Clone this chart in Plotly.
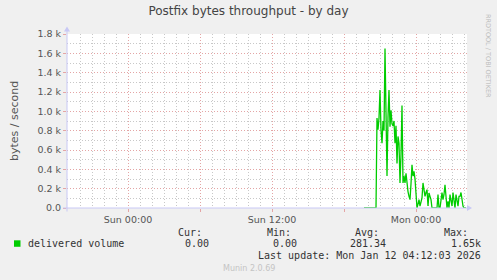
import pandas as pd
import plotly.graph_objects as go

# ---------------- data ----------------
title_text = "Postfix bytes throughput - by day"
y_label = "bytes / second"
series_name = "delivered volume"
range_start = "2026-01-10 18:55"
range_end = "2026-01-12 04:15"
series_start = "2026-01-11 19:40"   # first known 5-minute sample
# delivered volume, bytes/second, 5-minute samples
delivered = [
    0, 0, 0, 0, 0, 0, 0, 0, 0, 0, 0, 0, 0,
    930, 810, 930, 1220, 810, 670, 900, 800, 1650, 980,
    330, 940, 1220, 840, 1010, 870, 850, 900, 670, 850,
    460, 740, 670, 260, 550, 1060, 260, 330, 260,
    360, 250, 170, 120, 87, 250, 447, 330, 380, 300,
    190, 0, 40, 87, 20, 60, 105, 259, 180, 120,
    160, 190, 20, 155, 120, 87, 0, 0, 0, 0, 0, 0,
    139, 0, 0, 100, 160, 87, 140, 241, 120, 0,
    70, 0, 139, 70, 20, 160, 80, 0, 139, 60,
    20, 120, 120, 160, 60, 20, 0, 0, 0,
]
y_tick_vals = [0, 200, 400, 600, 800, 1000, 1200, 1400, 1600, 1800]
y_tick_text = ["0.0", "0.2 k", "0.4 k", "0.6 k", "0.8 k", "1.0 k",
               "1.2 k", "1.4 k", "1.6 k", "1.8 k"]
x_tick_vals = ["2026-01-10 18:00", "2026-01-11 00:00", "2026-01-11 06:00",
               "2026-01-11 12:00", "2026-01-11 18:00", "2026-01-12 00:00"]
x_tick_text = ["", "Sun 00:00", "", "Sun 12:00", "", "Mon 00:00"]
legend_headers = ["Cur:", "Min:", "Avg:", "Max:"]
legend_values = ["0.00", "0.00", "281.34", "1.65k"]
last_update = "Last update: Mon Jan 12 04:12:03 2026"
version_text = "Munin 2.0.69"
side_text = "RRDTOOL / TOBI OETIKER"

# ---------------- layout helpers ----------------
W, H = 497, 280
L, R, T, B = 67, 467, 33.5, 208.5   # plot area in pixels

def px(x):
    return (x - L) / (R - L)

def py(y):
    return (B - y) / (B - T)

times = pd.date_range(series_start, periods=len(delivered), freq="5min")

fig = go.Figure()
fig.add_trace(go.Scatter(
    x=times, y=delivered, mode="lines", name=series_name,
    line=dict(color="#00CC00", width=1.3), hoverinfo="skip",
))

grid_red = "rgb(228,165,165)"
grid_grey = "rgb(200,200,200)"
axis_col = "rgb(200,200,245)"
txt = "#555555"
dots = "1px,2px"

fig.update_layout(
    width=W, height=H,
    margin=dict(l=L, r=W - R, t=T, b=H - B),
    paper_bgcolor="#F0F0F0", plot_bgcolor="#FFFFFF",
    showlegend=False,
    font=dict(family="DejaVu Sans", size=9.5, color=txt),
    title=dict(text=title_text, x=0.5, xanchor="center", y=1 - 10.5 / H,
               yanchor="middle", font=dict(family="DejaVu Sans", size=12, color="#444444")),
)
fig.update_xaxes(
    range=[range_start, range_end], type="date",
    tickmode="array", tickvals=x_tick_vals, ticktext=x_tick_text,
    showgrid=True, gridcolor=grid_red, griddash=dots, gridwidth=1,
    ticks="outside", ticklen=3, tickcolor=grid_red,
    minor=dict(dtick=3600000, showgrid=True, gridcolor=grid_grey, griddash=dots,
               gridwidth=1, ticks=""),
    showline=False, zeroline=False,
    tickfont=dict(family="DejaVu Sans", size=9.5, color=txt),
)
fig.update_yaxes(
    range=[0, 1800], tickmode="array", tickvals=y_tick_vals, ticktext=y_tick_text,
    showgrid=True, gridcolor=grid_red, griddash=dots, gridwidth=1,
    ticks="outside", ticklen=3, tickcolor=grid_red,
    minor=dict(dtick=100, showgrid=True, gridcolor=grid_grey, griddash=dots,
               gridwidth=1, ticks=""),
    showline=False, zeroline=False,
    tickfont=dict(family="DejaVu Sans", size=9.5, color=txt),
)

shapes = [
    # x axis line with arrow
    dict(type="line", xref="paper", yref="paper", x0=px(63), x1=px(468), y0=0, y1=0,
         line=dict(color=axis_col, width=1)),
    dict(type="path", xref="paper", yref="paper",
         path=f"M {px(467)},{py(205.5)} L {px(472)},{py(208.5)} L {px(467)},{py(211.5)} Z",
         fillcolor=axis_col, line=dict(color=axis_col, width=0)),
    # y axis line with arrow
    dict(type="line", xref="paper", yref="paper", x0=0, x1=0, y0=py(212), y1=py(30),
         line=dict(color=axis_col, width=1)),
    dict(type="path", xref="paper", yref="paper",
         path=f"M {px(64)},{py(31)} L {px(67)},{py(26)} L {px(70)},{py(31)} Z",
         fillcolor=axis_col, line=dict(color=axis_col, width=0)),
    # legend swatch
    dict(type="rect", xref="paper", yref="paper",
         x0=px(14), x1=px(20.5), y0=py(247.5), y1=py(241),
         fillcolor="#00CC00", line=dict(width=0)),
]
fig.update_layout(shapes=shapes)

mono = dict(family="DejaVu Sans Mono", size=10, color="#333333")
ann = []
ann.append(dict(text=y_label, x=px(14), y=py(121), xref="paper", yref="paper",
                textangle=-90, showarrow=False, xanchor="center", yanchor="middle",
                font=dict(family="DejaVu Sans", size=11, color=txt)))
ann.append(dict(text=side_text, x=px(487.5), y=py(55), xref="paper", yref="paper",
                textangle=90, showarrow=False, xanchor="center", yanchor="middle",
                font=dict(family="DejaVu Sans", size=6.5, color="#BDBDBD")))
ann.append(dict(text=series_name, x=px(26), y=py(244.5), xref="paper", yref="paper",
                showarrow=False, xanchor="left", yanchor="middle", font=mono))
header_right = [204, 293, 381, 470]
value_right = [211, 299, 388, 483]
for h, v, hx, vx in zip(legend_headers, legend_values, header_right, value_right):
    ann.append(dict(text=h, x=px(hx), y=py(233), xref="paper", yref="paper",
                    showarrow=False, xanchor="right", yanchor="middle", font=mono))
    ann.append(dict(text=v, x=px(vx), y=py(244.5), xref="paper", yref="paper",
                    showarrow=False, xanchor="right", yanchor="middle", font=mono))
ann.append(dict(text=last_update, x=px(483), y=py(256.5), xref="paper", yref="paper",
                showarrow=False, xanchor="right", yanchor="middle", font=mono))
ann.append(dict(text=version_text, x=px(248.5), y=py(269.5), xref="paper", yref="paper",
                showarrow=False, xanchor="center", yanchor="middle",
                font=dict(family="DejaVu Sans", size=8, color="#C4C4C4")))
fig.update_layout(annotations=ann)

fig.write_html("out.html")
